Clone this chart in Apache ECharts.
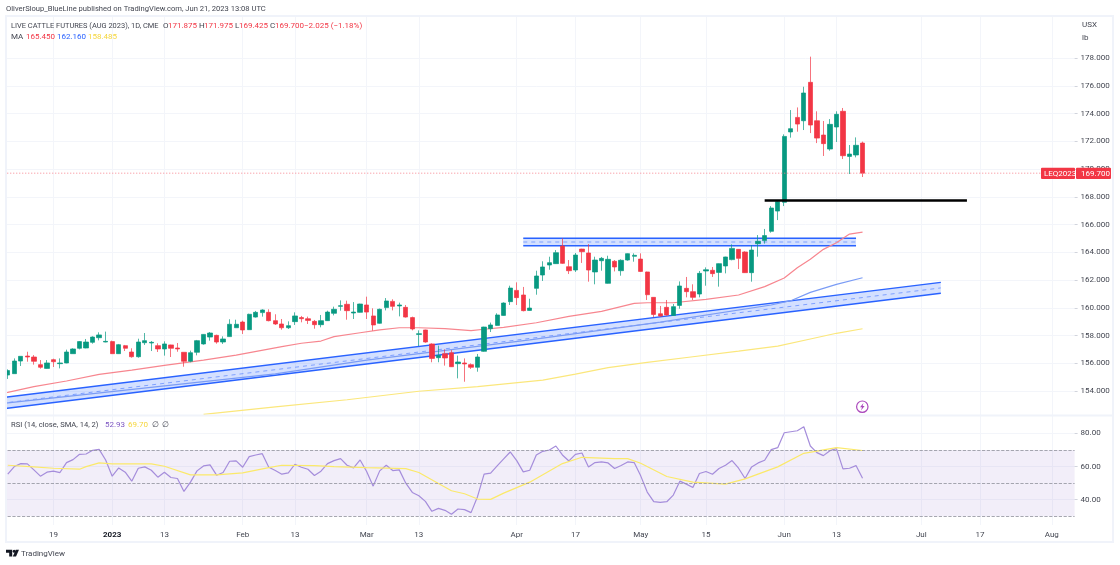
<!DOCTYPE html>
<html>
<head>
<meta charset="utf-8">
<title>Live Cattle Futures</title>
<script src="https://cdn.jsdelivr.net/npm/echarts@6/dist/echarts.min.js"></script>
<style>
  html, body { margin: 0; padding: 0; background: #fff; overflow: hidden; }
  /* canvas starts 2px left of the page so the empty first band sits behind the margin */
  #chart { position: absolute; left: -2px; top: 0; width: 1122px; height: 565px; }
</style>
</head>
<body>
<div id="chart"></div>
<script>
// trading days with a candle, oldest first
const dates = [
  '2022-12-08','2022-12-09','2022-12-12','2022-12-13','2022-12-14','2022-12-15','2022-12-16','2022-12-19','2022-12-20','2022-12-21','2022-12-22','2022-12-23','2022-12-27','2022-12-28','2022-12-29','2022-12-30',
  '2023-01-03','2023-01-04','2023-01-05','2023-01-06','2023-01-09','2023-01-10','2023-01-11','2023-01-12','2023-01-13','2023-01-17','2023-01-18','2023-01-19','2023-01-20','2023-01-23','2023-01-24','2023-01-25','2023-01-26','2023-01-27','2023-01-30','2023-01-31',
  '2023-02-01','2023-02-02','2023-02-03','2023-02-06','2023-02-07','2023-02-08','2023-02-09','2023-02-10','2023-02-13','2023-02-14','2023-02-15','2023-02-16','2023-02-17','2023-02-21','2023-02-22','2023-02-23','2023-02-24','2023-02-27','2023-02-28',
  '2023-03-01','2023-03-02','2023-03-03','2023-03-06','2023-03-07','2023-03-08','2023-03-09','2023-03-10','2023-03-13','2023-03-14','2023-03-15','2023-03-16','2023-03-17','2023-03-20','2023-03-21','2023-03-22','2023-03-23','2023-03-24','2023-03-27','2023-03-28','2023-03-29','2023-03-30','2023-03-31',
  '2023-04-03','2023-04-04','2023-04-05','2023-04-06','2023-04-10','2023-04-11','2023-04-12','2023-04-13','2023-04-14','2023-04-17','2023-04-18','2023-04-19','2023-04-20','2023-04-21','2023-04-24','2023-04-25','2023-04-26','2023-04-27','2023-04-28',
  '2023-05-01','2023-05-02','2023-05-03','2023-05-04','2023-05-05','2023-05-08','2023-05-09','2023-05-10','2023-05-11','2023-05-12','2023-05-15','2023-05-16','2023-05-17','2023-05-18','2023-05-19','2023-05-22','2023-05-23','2023-05-24','2023-05-25','2023-05-26','2023-05-30','2023-05-31',
  '2023-06-01','2023-06-02','2023-06-05','2023-06-06','2023-06-07','2023-06-08','2023-06-09','2023-06-12','2023-06-13','2023-06-14','2023-06-15','2023-06-16','2023-06-20'
];
// empty sessions on the right of the chart
const futureDates = [
  '2023-06-21','2023-06-22','2023-06-23','2023-06-26','2023-06-27','2023-06-28','2023-06-29','2023-06-30',
  '2023-07-03','2023-07-05','2023-07-06','2023-07-07','2023-07-10','2023-07-11','2023-07-12','2023-07-13','2023-07-14','2023-07-17','2023-07-18','2023-07-19','2023-07-20','2023-07-21','2023-07-24','2023-07-25','2023-07-26','2023-07-27','2023-07-28','2023-07-31',
  '2023-08-01','2023-08-02','2023-08-03','2023-08-04'
];
const leadDate = '2022-12-07';

const opens = [155.15,155.25,156.16,156.52,156.45,155.90,155.63,156.26,155.97,156.02,156.69,157.08,157.10,157.51,157.84,157.53,
  157.56,156.69,157.27,156.81,156.47,157.48,157.46,157.27,157.03,157.32,157.10,156.79,156.14,156.79,157.39,157.89,158.01,157.53,157.92,158.56,
  158.97,158.42,159.33,159.65,159.67,159.07,158.83,158.56,159.00,159.29,159.21,159.02,158.78,159.07,159.60,160.10,160.25,159.62,159.67,
  160.20,159.41,158.88,160.01,160.46,160.13,160.03,159.29,158.08,158.40,157.39,156.40,156.69,156.76,155.97,156.02,155.90,155.71,156.86,158.49,158.73,159.45,160.44,
  161.25,160.92,159.81,161.40,162.36,163.08,163.18,164.45,162.96,162.72,164.23,163.95,162.58,163.39,161.76,163.35,162.67,163.44,163.71,
  163.51,162.58,160.75,159.57,160.03,159.45,160.17,161.40,161.16,160.99,162.65,162.70,162.55,163.01,163.47,164.21,164.02,162.53,164.62,164.84,165.51,166.97,
  167.60,172.67,173.72,173.48,176.25,173.48,172.45,171.44,173.03,174.16,170.91,171.01,171.875];
const highs = [155.56,156.35,156.50,156.83,156.59,156.23,156.23,156.33,156.35,156.98,157.08,157.60,157.75,157.94,158.23,158.28,
  157.63,157.39,157.32,157.08,157.77,158.18,157.60,157.44,157.58,157.34,157.46,156.79,156.91,157.68,158.10,158.25,158.06,157.94,159.17,159.14,
  159.07,159.57,159.77,159.89,159.89,159.53,159.19,159.02,159.67,159.41,159.36,159.12,159.48,159.79,160.08,160.53,160.51,160.41,160.29,
  160.80,159.96,159.94,160.70,160.61,160.37,160.20,159.36,158.37,158.42,157.44,157.27,157.00,156.95,156.55,156.35,155.99,156.67,158.63,158.93,159.60,160.39,161.59,
  161.83,161.50,160.65,162.67,163.35,163.68,164.16,165.00,163.44,163.95,164.25,164.59,163.68,163.66,163.75,163.44,163.49,163.92,163.92,
  163.92,162.60,160.77,160.13,160.56,160.27,161.90,162.22,161.69,162.65,162.91,162.94,163.20,163.68,164.57,164.23,164.07,164.52,165.24,165.68,167.33,167.74,
  172.50,174.25,174.44,175.93,178.10,174.16,173.46,173.60,174.16,174.40,171.73,172.28,171.975];
const lows = [154.87,155.25,155.80,156.11,155.90,155.61,155.61,155.73,155.63,156.00,156.69,157.00,157.08,157.41,157.65,157.51,
  156.67,156.67,156.88,156.40,156.40,157.32,156.88,156.81,156.55,156.45,156.83,155.75,156.07,156.57,157.34,157.63,157.41,157.39,157.90,158.56,
  158.11,158.40,159.29,159.36,159.02,158.76,158.42,158.47,158.76,158.95,158.83,158.49,158.59,159.05,159.45,159.79,159.14,159.19,159.65,
  159.19,158.35,158.85,159.81,159.81,159.38,159.29,158.37,157.24,157.48,156.07,156.07,155.83,155.73,154.91,154.67,155.59,155.39,156.83,158.25,158.71,159.43,160.20,
  160.20,159.74,159.79,160.94,161.93,162.74,163.16,163.16,162.43,162.58,163.23,161.88,161.69,162.67,161.74,162.62,162.31,163.39,163.32,
  162.58,160.56,159.31,159.36,159.43,159.43,159.93,160.75,160.56,160.75,161.59,162.22,161.52,162.48,163.42,162.79,162.51,161.88,163.68,164.62,165.41,166.32,
  167.33,172.26,172.69,172.81,172.59,171.87,170.94,171.32,171.95,170.72,169.64,170.84,169.425];
const closes = [155.47,156.16,156.50,156.45,156.14,155.71,156.02,156.11,156.02,156.81,157.03,157.56,157.53,157.89,158.04,157.58,
  156.69,157.34,157.08,156.47,157.53,157.63,157.51,157.03,157.39,157.08,157.03,156.14,156.76,157.63,158.08,158.18,157.53,157.75,158.81,158.81,
  158.40,159.53,159.67,159.84,159.07,158.83,158.56,158.71,159.41,159.21,159.09,158.78,159.07,159.69,159.89,160.15,159.79,159.69,160.27,
  159.69,158.76,159.89,160.49,160.10,160.20,159.33,158.47,158.13,157.53,156.35,156.57,156.38,155.75,156.09,155.95,155.71,156.45,158.61,158.76,159.48,160.34,161.42,
  160.73,159.79,159.98,162.29,162.94,163.25,163.97,163.20,162.67,163.80,164.04,162.72,163.44,163.56,163.49,162.94,163.42,163.90,163.78,
  162.62,160.94,159.52,159.40,159.48,160.08,161.57,161.16,160.75,162.48,162.74,162.46,163.18,163.66,164.28,163.56,162.53,164.16,164.79,165.20,167.19,167.65,
  172.35,172.91,173.24,175.48,173.17,172.23,171.83,173.22,173.94,170.96,171.08,171.71,169.700];

// moving averages, read at a few bars (bar 0 = first date)
const maFastBars = [-1,0,4,9,14,19,24,30,35,42,45,48,50,54,57,60,63,67,71,73,76,81,86,91,96,98,102,107,112,116,119,121,123,125,127,129,131];
const maFastValues = [153.86,153.90,154.31,154.72,155.20,155.51,155.85,156.23,156.59,157.20,157.44,157.60,157.92,158.20,158.40,158.56,158.56,158.49,158.35,158.45,158.59,158.92,159.38,159.74,160.32,160.36,160.36,160.61,160.92,161.52,162.14,162.89,163.50,164.21,164.69,165.31,165.45];
const maMidBars = [-1,0,41,55,80,100,117,120,123,127,131];
const maMidValues = [153.07,153.14,155.23,156.23,157.68,158.97,160.20,160.51,161.11,161.69,162.16];
const maSlowBars = [30,41,52,63,72,82,87,92,98,105,112,118,123,127,131];
const maSlowValues = [152.32,152.85,153.37,153.98,154.31,154.79,155.22,155.68,156.07,156.47,156.88,157.24,157.75,158.16,158.485];

const rsiValues = [55.4,60,61.8,61.6,58,54.2,56.6,57.2,56.4,62.4,64.2,67.4,67.6,69.8,70.4,64,54.2,59.2,56.6,51.2,59,59.8,57.8,53.6,56.6,53.4,52.8,45,50.6,57.4,60.4,61,54.8,56.4,63.2,63.4,59.6,66,67,67.8,59.6,57.6,55.4,56.2,61.4,59.6,58.4,54.6,57.2,61.8,63.6,64.8,60.8,59.2,64,57,48.2,57.4,60.8,57.6,58,50,44.4,42.4,39,33,34.8,33.6,31.2,34.4,34,32.2,42,55.4,56,60.4,64.6,68.8,63.6,56.8,57.8,67,69.2,70,72.4,67,63.4,67.4,68.2,59.8,62.4,62.8,62.2,58.8,60.6,62.8,62.4,54.4,44.6,38.8,38.4,38.8,42.8,51.2,49.4,47.4,55.8,57,55.4,58.8,60.8,63.6,59,52.8,59.8,62.2,63.8,70.2,71.4,80.4,81,81.6,84,72.4,68.4,66.6,69.6,70.8,58.6,59,60.6,52.93];
const rsiMaBars = [0,4,7,11,12,14,16,22,24,28,32,36,40,42,47,50,55,61,63,66,68,70,72,74,76,80,85,88,93,95,97,101,105,110,113,118,122,127,131];
const rsiMaValues = [60.8,59.8,59,58.4,60,62.2,61.6,61.6,60.2,55,55,56.2,59.4,60.8,60.6,60,59.4,58.8,56.4,49.8,45.4,43.6,40.4,40.2,44,50.6,61.8,65.6,64.8,64.8,62,54,50.6,49.4,52.6,59.8,68,71.4,69.7];

// drawn channels and levels: start bar, end bar and prices
const risingBars = [-1,143];
const risingTop = [153.51,161.83];
const risingMid = [153.11,161.43];
const risingBottom = [152.71,161.04];
const flatBars = [79,130];
const flatTop = [165.01,165.01];
const flatMid = [164.74,164.74];
const flatBottom = [164.47,164.47];
const levelBars = [116,147];
const levelValues = [167.74,167.74];
const lastCloseBars = [-1,163];
const lastCloseValues = [169.7,169.7];

const priceTicks = [154,156,158,160,162,164,166,168,170,172,174,176,178];
const rsiTicks = [40,60,80];
const tickDates = ['2022-12-19','2023-01-03','2023-01-13','2023-02-01','2023-02-13','2023-03-01','2023-03-13','2023-04-03','2023-04-17','2023-05-01','2023-05-15','2023-06-01','2023-06-13','2023-07-03','2023-07-17','2023-08-01'];
const tickTexts = ['19','2023','13','Feb','13','Mar','13','Apr','17','May','15','Jun','13','Jul','17','Aug'];

const FONT = 'Roboto, sans-serif';
const UP = '#089981';
const DOWN = '#f23645';
const TEXT = '#434651';
const GRID = '#f3f5fa';
const FRAME = '#f0f3fa';
const BLUE = '#2962ff';
const LEAD = 1; // one empty band left of the first candle so lines reach the frame
const OFF = 2;  // page x to canvas x

const categories = [leadDate].concat(dates, futureDates);
const candleData = [['-','-','-','-']].concat(dates.map(function (d, i) {
  return [opens[i], closes[i], lows[i], highs[i]];
}));

function isTick(index, value) {
  return tickDates.indexOf(value) >= 0;
}

function pairs(bars, values) {
  return bars.map(function (b, i) { return [b + LEAD, values[i]]; });
}

function lineSeries(name, bars, values, color) {
  return {
    name: name, type: 'line', data: pairs(bars, values), symbol: 'none', z: 2,
    silent: true, lineStyle: { color: color, width: 1.2 }
  };
}

// filled channel with solid edges and a dashed middle line
function channelSeries(name, bars, top, mid, bottom) {
  return {
    name: name, type: 'custom', clip: true, silent: true, z: 1,
    data: [[bars[0] + LEAD, top[0]]],
    renderItem: function (params, api) {
      const x0 = bars[0] + LEAD;
      const x1 = bars[1] + LEAD;
      const t0 = api.coord([x0, top[0]]), t1 = api.coord([x1, top[1]]);
      const m0 = api.coord([x0, mid[0]]), m1 = api.coord([x1, mid[1]]);
      const b0 = api.coord([x0, bottom[0]]), b1 = api.coord([x1, bottom[1]]);
      const edge = { stroke: BLUE, lineWidth: 1.5, fill: null };
      return {
        type: 'group',
        children: [
          { type: 'polygon', shape: { points: [t0, t1, b1, b0] }, style: { fill: 'rgba(41,98,255,0.2)' } },
          { type: 'line', shape: { x1: t0[0], y1: t0[1], x2: t1[0], y2: t1[1] }, style: edge },
          { type: 'line', shape: { x1: b0[0], y1: b0[1], x2: b1[0], y2: b1[1] }, style: edge },
          { type: 'line', shape: { x1: m0[0], y1: m0[1], x2: m1[0], y2: m1[1] }, style: { stroke: 'rgba(41,98,255,0.5)', lineWidth: 1, lineDash: [4, 4], fill: null } }
        ]
      };
    }
  };
}

function label(text, x, y, opts) {
  return {
    type: 'text', x: x + OFF, y: y, z: 120, silent: true,
    style: Object.assign({ text: text, fill: TEXT, font: '8px ' + FONT, textVerticalAlign: 'middle' }, opts || {})
  };
}

const axisStyle = {
  type: 'category', data: categories, boundaryGap: true,
  axisLine: { show: false }, axisTick: { show: false },
  splitLine: { show: true, interval: isTick, alignWithLabel: true, lineStyle: { color: GRID, width: 1 } }
};

const option = {
  animation: false,
  backgroundColor: '#fff',
  grid: [
    { left: 0, top: 16, width: 1076.6, height: 399 },
    { left: 0, top: 416, width: 1076.6, height: 109 }
  ],
  xAxis: [
    Object.assign({}, axisStyle, { gridIndex: 0, axisLabel: { show: false } }),
    Object.assign({}, axisStyle, {
      gridIndex: 1,
      axisLabel: {
        interval: isTick, margin: 6, color: TEXT, fontFamily: FONT, fontSize: 8,
        formatter: function (v) {
          const text = tickTexts[tickDates.indexOf(v)];
          return text === '2023' ? '{strong|' + text + '}' : text;
        },
        rich: { strong: { color: '#131722', fontFamily: FONT, fontSize: 8, fontWeight: 'bold' } }
      }
    })
  ],
  yAxis: [
    {
      gridIndex: 0, position: 'right', min: 152.27, max: 181.03,
      axisLine: { show: false },
      axisTick: { show: true, customValues: priceTicks, length: 3, lineStyle: { color: '#d1d4dc' } },
      axisLabel: {
        customValues: priceTicks, margin: 6, color: TEXT, fontFamily: FONT, fontSize: 8,
        formatter: function (v) { return v.toFixed(3); }
      },
      splitLine: { show: true, lineStyle: { color: GRID, width: 1 } }
    },
    {
      gridIndex: 1, position: 'right', min: 24.75, max: 90.51,
      axisLine: { show: false },
      axisTick: { show: true, customValues: rsiTicks, length: 3, lineStyle: { color: '#d1d4dc' } },
      axisLabel: {
        customValues: rsiTicks, margin: 6, color: TEXT, fontFamily: FONT, fontSize: 8,
        formatter: function (v) { return v.toFixed(2); }
      },
      splitLine: { show: true, lineStyle: { color: GRID, width: 1 } }
    }
  ],
  series: [
    channelSeries('Rising channel', risingBars, risingTop, risingMid, risingBottom),
    channelSeries('Flat channel', flatBars, flatTop, flatMid, flatBottom),
    lineSeries('MA 1', maFastBars, maFastValues, '#f7868f'),
    lineSeries('MA 2', maMidBars, maMidValues, '#7b9cf5'),
    lineSeries('MA 3', maSlowBars, maSlowValues, '#fbe77c'),
    {
      name: 'LIVE CATTLE FUTURES', type: 'candlestick', data: candleData, barWidth: 4.8, z: 3, silent: true,
      itemStyle: { color: UP, color0: DOWN, borderColor: UP, borderColor0: DOWN, borderWidth: 0.7 }
    },
    {
      name: 'Last price', type: 'line', data: pairs(lastCloseBars, lastCloseValues), symbol: 'none', z: 4, silent: true,
      lineStyle: { color: '#f7858f', type: [1, 2], width: 1 }
    },
    {
      name: 'Level', type: 'line', data: pairs(levelBars, levelValues), symbol: 'none', z: 4, silent: true,
      lineStyle: { color: '#000', width: 2.5 }
    },
    {
      name: 'RSI', type: 'line', xAxisIndex: 1, yAxisIndex: 1, data: rsiValues.map(function (v, i) { return [i + LEAD, v]; }),
      symbol: 'none', z: 3, silent: true, lineStyle: { color: '#a58ddb', width: 1.2 },
      markArea: {
        silent: true, itemStyle: { color: 'rgba(126,87,194,0.1)' },
        data: [[{ yAxis: 30 }, { yAxis: 70 }]]
      },
      markLine: {
        symbol: 'none', silent: true, animation: false, label: { show: false },
        lineStyle: { color: '#8f929c', type: 'dashed', width: 0.8 },
        data: [{ yAxis: 70 }, { yAxis: 50 }, { yAxis: 30 }]
      }
    },
    {
      name: 'RSI MA', type: 'line', xAxisIndex: 1, yAxisIndex: 1, data: pairs(rsiMaBars, rsiMaValues),
      symbol: 'none', z: 3, silent: true, lineStyle: { color: '#fbe96a', width: 1.2 }
    }
  ],
  graphic: {
    elements: [
      // white margin and chart frame over the plot edges
      { type: 'rect', z: 100, silent: true, shape: { x: 0, y: 0, width: 8, height: 565 }, style: { fill: '#fff' } },
      { type: 'rect', z: 101, silent: true, shape: { x: 8, y: 16, width: 1107, height: 526 }, style: { fill: null, stroke: FRAME, lineWidth: 2 } },
      { type: 'line', z: 101, silent: true, shape: { x1: 8, y1: 415.5, x2: 1115, y2: 415.5 }, style: { stroke: FRAME, lineWidth: 2 } },

      label('OliverSloup_BlueLine published on TradingView.com, Jun 21, 2023 13:08 UTC', 6, 9, { font: '7.6px ' + FONT }),
      label('LIVE CATTLE FUTURES (AUG 2023), 1D, CME', 11, 26, { font: '7.45px ' + FONT }),
      label('O', 163, 26),
      label('171.875', 168, 26, { fill: DOWN }),
      label('H', 199, 26),
      label('171.975', 204, 26, { fill: DOWN }),
      label('L', 235, 26),
      label('169.425', 239, 26, { fill: DOWN }),
      label('C', 270, 26),
      label('169.700', 275, 26, { fill: DOWN }),
      label('\u22122.025 (\u22121.18%)', 304, 26, { fill: DOWN }),
      label('MA', 11, 37),
      label('165.450', 26, 37, { fill: DOWN }),
      label('162.160', 57, 37, { fill: '#2962ff' }),
      label('158.485', 88, 37, { fill: '#f5d63d' }),
      label('USX', 1082, 25),
      label('lb', 1082, 38),

      label('RSI (14, close, SMA, 14, 2)', 11, 425, { font: '7.6px ' + FONT }),
      label('52.93', 105, 425, { fill: '#7e57c2' }),
      label('69.70', 128, 425, { fill: '#f5d63d' }),
      label('\u2205', 152, 425),
      label('\u2205', 162, 425),

      // last price tags
      { type: 'rect', z: 110, silent: true, shape: { x: 1043, y: 167.7, width: 34, height: 11.3, r: 1 }, style: { fill: DOWN } },
      { type: 'rect', z: 110, silent: true, shape: { x: 1078, y: 167.7, width: 35, height: 11.3, r: 1 }, style: { fill: DOWN } },
      label('LEQ2023', 1044, 173.5, { fill: '#fff' }),
      label('169.700', 1081, 173.5, { fill: '#fff' }),

      // flash marker
      { type: 'circle', z: 110, silent: true, shape: { cx: 864.3, cy: 406.7, r: 5.7 }, style: { fill: '#fff', stroke: '#ab47bc', lineWidth: 1.2 } },
      { type: 'polygon', z: 111, silent: true, shape: { points: [[865.5, 403], [862, 407.3], [864, 407.3], [863, 410.4], [866.6, 406], [864.6, 406]] }, style: { fill: '#ab47bc' } },

      // TradingView mark
      { type: 'polygon', z: 110, silent: true, shape: { points: [[8, 549.7], [14.2, 549.7], [14.2, 556.6], [11.2, 556.6], [11.2, 552.8], [8, 552.8]] }, style: { fill: '#131722' } },
      { type: 'circle', z: 110, silent: true, shape: { cx: 16.2, cy: 551.2, r: 1.5 }, style: { fill: '#131722' } },
      { type: 'polygon', z: 110, silent: true, shape: { points: [[14.8, 556.6], [17.8, 549.7], [21, 549.7], [18, 556.6]] }, style: { fill: '#131722' } },
      label('TradingView', 21, 553.5, { font: '8px ' + FONT })
    ]
  }
};

const myChart = echarts.init(document.getElementById('chart'));
myChart.setOption(option);

window.addEventListener('resize', function () {
  myChart.resize();
});
</script>
</body>
</html>
